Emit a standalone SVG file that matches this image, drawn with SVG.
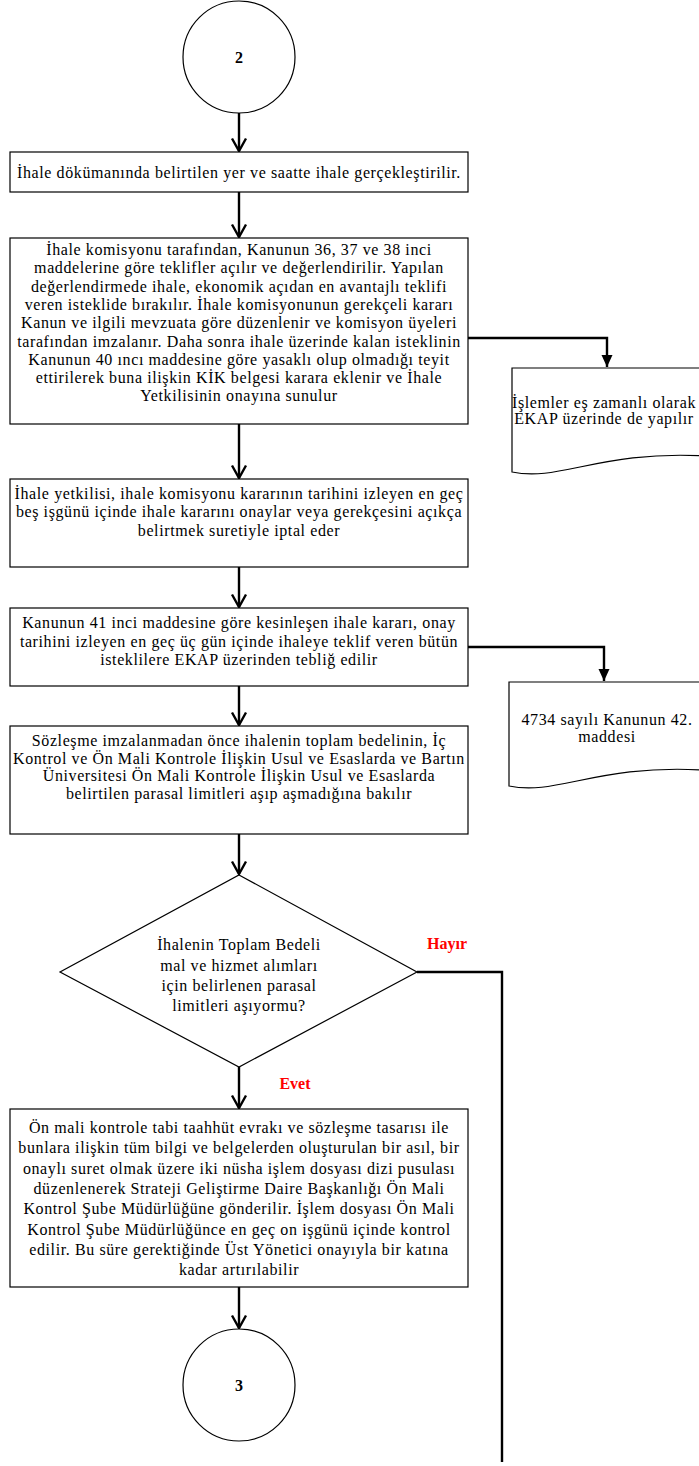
<svg xmlns="http://www.w3.org/2000/svg" width="699" height="1466" viewBox="0 0 699 1466">
<defs>
<marker id="openArrow" markerUnits="userSpaceOnUse" markerWidth="18" markerHeight="18" viewBox="-15 -9 17 18" refX="0" refY="0" orient="auto" overflow="visible">
<path d="M-12.5,-7 L0,0 L-12.5,7" fill="none" stroke="#000" stroke-width="2.4"/>
</marker>
<marker id="solidArrow" markerUnits="userSpaceOnUse" markerWidth="14" markerHeight="14" viewBox="-13 -7 14 14" refX="0" refY="0" orient="auto" overflow="visible">
<path d="M-12,-5.5 L0,0 L-12,5.5 Z" fill="#000"/>
</marker>
</defs>
<style>
.box{fill:#fff;stroke:#000;stroke-width:1.2}
.t{font-family:"Liberation Serif","Times New Roman",serif;font-size:16px;letter-spacing:0.6px;fill:#000;text-anchor:middle}
.num{font-family:"Liberation Serif","Times New Roman",serif;font-size:16px;font-weight:bold;fill:#000;text-anchor:middle}
.lbl{font-family:"Liberation Serif","Times New Roman",serif;font-size:16px;font-weight:bold;fill:#ff0000;text-anchor:middle}
.line{fill:none;stroke:#000;stroke-width:2.4}
.arr{marker-end:url(#openArrow)}
.sarr{marker-end:url(#solidArrow)}
</style>

<g id="connectors">
<path class="line arr" d="M239,113 V151"/>
<path class="line arr" d="M239,192 V237"/>
<path class="line arr" d="M239,424 V478"/>
<path class="line arr" d="M239,567 V607"/>
<path class="line arr" d="M239,686 V725"/>
<path class="line arr" d="M239,834 V874"/>
<path class="line arr" d="M239,1067 V1108"/>
<path class="line arr" d="M239,1287 V1328"/>
<path class="line sarr" d="M468,338 H607 V367"/>
<path class="line sarr" d="M468,647 H604 V681"/>
<path class="line" d="M417,972 H502 V1462"/>
</g>

<g id="start2">
<circle cx="239" cy="57" r="56" fill="#fff" stroke="#000" stroke-width="1.2"/>
<text class="num" x="239" y="63">2</text>
</g>

<g id="box1">
<rect class="box" x="10" y="152" width="458" height="40"/>
<text class="t" x="239" y="178">İhale dökümanında belirtilen  yer ve saatte ihale gerçekleştirilir.</text>
</g>

<g id="box2">
<rect class="box" x="10" y="238" width="458" height="186"/>
<text class="t" x="239" y="255">İhale komisyonu tarafından, Kanunun 36, 37 ve 38 inci</text>
<text class="t" x="239" y="273.3">maddelerine göre teklifler açılır ve değerlendirilir.  Yapılan</text>
<text class="t" x="239" y="291.6">değerlendirmede  ihale, ekonomik açıdan en avantajlı teklifi</text>
<text class="t" x="239" y="309.9">veren isteklide bırakılır.  İhale komisyonunun gerekçeli  kararı</text>
<text class="t" x="239" y="328.2">Kanun ve ilgili  mevzuata göre düzenlenir ve komisyon üyeleri</text>
<text class="t" x="239" y="346.5">tarafından imzalanır. Daha sonra ihale üzerinde kalan isteklinin</text>
<text class="t" x="239" y="364.8">Kanunun 40 ıncı maddesine göre yasaklı olup olmadığı  teyit</text>
<text class="t" x="239" y="383.1">ettirilerek buna ilişkin KİK belgesi karara eklenir ve İhale</text>
<text class="t" x="239" y="401.4">Yetkilisinin onayına sunulur</text>
</g>

<g id="doc1">
<path d="M512,368 H706 V456 C600,450 560,482 512,472 Z" fill="#fff" stroke="#000" stroke-width="1.2"/>
<text class="t" x="604" y="408">İşlemler eş zamanlı olarak</text>
<text class="t" x="604" y="423.5">EKAP üzerinde de yapılır</text>
</g>

<g id="box3">
<rect class="box" x="10" y="479" width="458" height="88"/>
<text class="t" x="239" y="498.5">İhale yetkilisi, ihale komisyonu kararının tarihini izleyen en geç</text>
<text class="t" x="239" y="517">beş işgünü içinde ihale kararını onaylar veya gerekçesini açıkça</text>
<text class="t" x="239" y="535.5">belirtmek suretiyle iptal eder</text>
</g>

<g id="box4">
<rect class="box" x="10" y="608" width="458" height="78"/>
<text class="t" x="239" y="628">Kanunun 41 inci maddesine göre kesinleşen ihale kararı, onay</text>
<text class="t" x="239" y="646.5">tarihini izleyen en geç üç gün içinde ihaleye teklif veren bütün</text>
<text class="t" x="239" y="665">isteklilere EKAP üzerinden tebliğ edilir</text>
</g>

<g id="doc2">
<path d="M509,682 H703 V770 C597,764 557,796 509,786 Z" fill="#fff" stroke="#000" stroke-width="1.2"/>
<text class="t" x="607" y="725">4734 sayılı Kanunun 42.</text>
<text class="t" x="607" y="741.5">maddesi</text>
</g>

<g id="box5">
<rect class="box" x="10" y="726" width="458" height="108"/>
<text class="t" x="239" y="746">Sözleşme imzalanmadan önce ihalenin toplam bedelinin, İç</text>
<text class="t" x="239" y="763.6">Kontrol ve Ön Mali Kontrole İlişkin Usul ve Esaslarda ve Bartın</text>
<text class="t" x="239" y="781.2">Üniversitesi Ön Mali Kontrole İlişkin Usul ve Esaslarda</text>
<text class="t" x="239" y="798.8">belirtilen parasal limitleri aşıp aşmadığına  bakılır</text>
</g>

<g id="decision">
<path d="M239,875 L417,972 L239,1067 L60,972 Z" fill="#fff" stroke="#000" stroke-width="1.2"/>
<text class="t" x="239" y="950">İhalenin Toplam Bedeli</text>
<text class="t" x="239" y="970.5">mal ve hizmet alımları</text>
<text class="t" x="239" y="991">için belirlenen parasal</text>
<text class="t" x="239" y="1011">limitleri aşıyormu?</text>
</g>

<g id="labels">
<text class="lbl" x="447" y="949">Hayır</text>
<text class="lbl" x="295" y="1089">Evet</text>
</g>

<g id="box6">
<rect class="box" x="10" y="1109" width="458" height="178"/>
<text class="t" x="239" y="1133">Ön mali kontrole tabi taahhüt evrakı ve sözleşme tasarısı ile</text>
<text class="t" x="239" y="1153.3">bunlara ilişkin tüm bilgi ve belgelerden  oluşturulan bir asıl, bir</text>
<text class="t" x="239" y="1173.6">onaylı suret olmak üzere iki nüsha işlem dosyası dizi pusulası</text>
<text class="t" x="239" y="1193.9">düzenlenerek Strateji Geliştirme Daire Başkanlığı Ön Mali</text>
<text class="t" x="239" y="1214.2">Kontrol Şube Müdürlüğüne gönderilir.  İşlem dosyası Ön Mali</text>
<text class="t" x="239" y="1234.5">Kontrol Şube Müdürlüğünce en geç on işgünü içinde kontrol</text>
<text class="t" x="239" y="1254.8">edilir.  Bu süre gerektiğinde  Üst Yönetici onayıyla bir katına</text>
<text class="t" x="239" y="1275.1">kadar artırılabilir</text>
</g>

<g id="end3">
<circle cx="239" cy="1385" r="56" fill="#fff" stroke="#000" stroke-width="1.2"/>
<text class="num" x="239" y="1391">3</text>
</g>
</svg>
